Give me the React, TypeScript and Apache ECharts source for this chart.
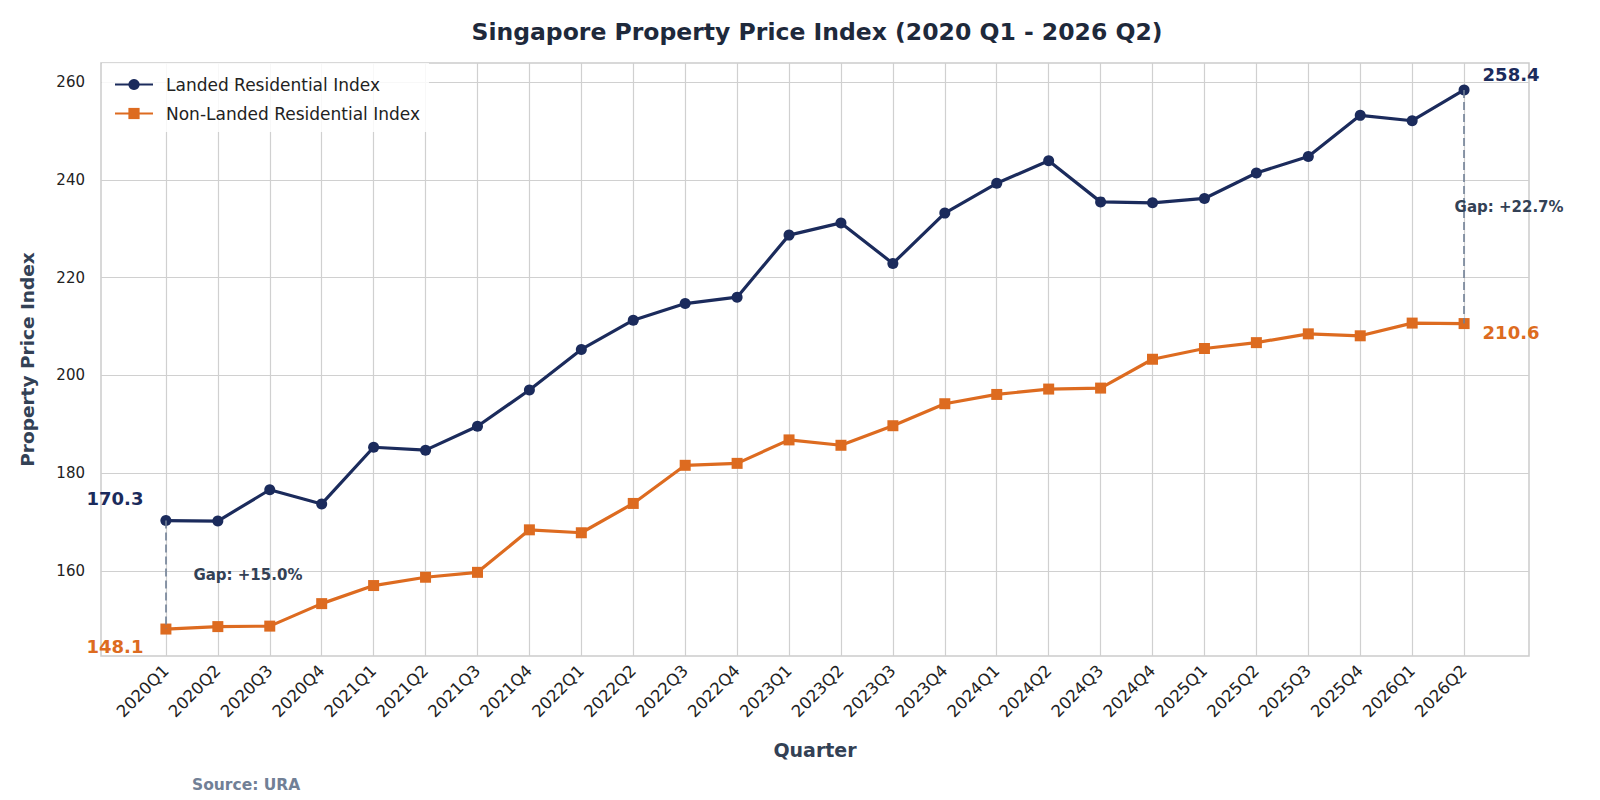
import React, { useEffect, useRef } from "react";
import * as echarts from "echarts";

const quarters = [
  "2020Q1", "2020Q2", "2020Q3", "2020Q4",
  "2021Q1", "2021Q2", "2021Q3", "2021Q4",
  "2022Q1", "2022Q2", "2022Q3", "2022Q4",
  "2023Q1", "2023Q2", "2023Q3", "2023Q4",
  "2024Q1", "2024Q2", "2024Q3", "2024Q4",
  "2025Q1", "2025Q2", "2025Q3", "2025Q4",
  "2026Q1", "2026Q2",
];

const landed = [
  170.3, 170.2, 176.6, 173.7,
  185.3, 184.7, 189.6, 197.0,
  205.3, 211.3, 214.7, 216.0,
  228.7, 231.2, 222.9, 233.2,
  239.3, 243.9, 235.5, 235.3,
  236.2, 241.4, 244.8, 253.2,
  252.1, 258.4,
];

const nonLanded = [
  148.1, 148.6, 148.7, 153.3,
  157.0, 158.7, 159.7, 168.4,
  167.8, 173.8, 181.6, 182.0,
  186.8, 185.7, 189.7, 194.2,
  196.1, 197.2, 197.4, 203.3,
  205.5, 206.7, 208.5, 208.1,
  210.7, 210.6,
];

const yTicks = [160, 180, 200, 220, 240, 260];

const NAVY = "#1b2b5c";
const ORANGE = "#dd6b20";
const SLATE = "#334155";
const GREY = "#718096";
const FONT = "DejaVu Sans";

export default function App() {
  const ref = useRef<HTMLDivElement>(null);

  useEffect(() => {
    document.body.style.margin = "0";
    const chart = echarts.init(ref.current!, null, { renderer: "svg" });

    const n = quarters.length;
    const xs = quarters.map((_, i) => i);
    const allVals = landed.concat(nonLanded);
    const dMin = Math.min(...allVals);
    const dMax = Math.max(...allVals);
    const yPad = (dMax - dMin) * 0.05;
    const xPad = (n - 1) * 0.05;
    const last = n - 1;

    const gapFirst = ((landed[0] / nonLanded[0] - 1) * 100).toFixed(1);
    const gapLast = ((landed[last] / nonLanded[last] - 1) * 100).toFixed(1);

    const bigLabel = (color: string, pos: string, dist: number, offset: number[]) => ({
      show: true,
      position: pos,
      distance: dist,
      offset,
      color,
      fontSize: 18,
      fontWeight: "bold",
      fontFamily: FONT,
      formatter: (p: any) => p.value[1].toFixed(1),
    });

    const landedData = landed.map((v, i) => {
      const item: any = { value: [i, v] };
      if (i === 0) item.label = bigLabel(NAVY, "left", 17, [0, -22]);
      if (i === last) item.label = bigLabel(NAVY, "right", 13, [0, -15]);
      return item;
    });
    const nonLandedData = nonLanded.map((v, i) => {
      const item: any = { value: [i, v] };
      if (i === 0) item.label = bigLabel(ORANGE, "left", 17, [0, 17]);
      if (i === last) item.label = bigLabel(ORANGE, "right", 13, [0, 9]);
      return item;
    });

    const option: any = {
      animation: false,
      backgroundColor: "#ffffff",
      textStyle: { fontFamily: FONT },
      title: {
        text: "Singapore Property Price Index (2020 Q1 - 2026 Q2)",
        left: 812,
        textAlign: "center",
        top: 15,
        textStyle: { fontSize: 23.5, fontWeight: "bold", color: "#1e293b", fontFamily: FONT },
      },
      legend: {
        orient: "vertical",
        left: 102,
        top: 63,
        padding: [13, 9, 10, 12],
        backgroundColor: "rgba(255,255,255,0.85)",
        itemWidth: 38,
        itemHeight: 14,
        itemGap: 12,
        textStyle: { fontSize: 17, color: "#222222", fontFamily: FONT, padding: [0, 0, 0, 8] },
        data: ["Landed Residential Index", "Non-Landed Residential Index"],
      },
      grid: {
        left: 101,
        right: 71,
        top: 63,
        bottom: 144,
        show: true,
        borderColor: "#cccccc",
        borderWidth: 1.5,
        backgroundColor: "transparent",
      },
      xAxis: {
        type: "value",
        min: -xPad,
        max: last + xPad,
        name: "Quarter",
        nameLocation: "middle",
        nameGap: 84,
        nameTextStyle: { fontSize: 19, fontWeight: "bold", color: SLATE, fontFamily: FONT },
        axisLine: { show: false },
        axisTick: { show: false, customValues: xs },
        axisLabel: {
          customValues: xs,
          rotate: 45,
          margin: 12,
          fontSize: 16.5,
          color: "#222222",
          fontFamily: FONT,
          formatter: (v: number) => quarters[Math.round(v)] ?? "",
        },
        splitLine: { show: true, lineStyle: { color: "#d0d0d0", width: 1.2 } },
      },
      yAxis: {
        type: "value",
        min: dMin - yPad,
        max: dMax + yPad,
        name: "Property Price Index",
        nameLocation: "middle",
        nameGap: 64,
        nameTextStyle: { fontSize: 18.5, fontWeight: "bold", color: SLATE, fontFamily: FONT },
        axisLine: { show: false },
        axisTick: { show: false, customValues: yTicks },
        axisLabel: {
          customValues: yTicks,
          margin: 16,
          fontSize: 15,
          color: "#222222",
          fontFamily: FONT,
        },
        splitLine: { show: true, lineStyle: { color: "#d0d0d0", width: 1.2 } },
      },
      series: [
        {
          name: "Landed Residential Index",
          type: "line",
          data: landedData,
          symbol: "circle",
          symbolSize: 11,
          color: NAVY,
          lineStyle: { width: 3.2, color: NAVY },
          itemStyle: { color: NAVY },
          z: 4,
          markLine: {
            silent: true,
            symbol: ["none", "none"],
            label: { show: false },
            lineStyle: { type: [8, 4], color: GREY, width: 1.6 },
            data: [
              [{ coord: [0, landed[0]] }, { coord: [0, nonLanded[0]] }],
              [{ coord: [last, landed[last]] }, { coord: [last, nonLanded[last]] }],
            ],
          },
          markPoint: {
            silent: true,
            symbol: "circle",
            symbolSize: 1,
            itemStyle: { color: "rgba(0,0,0,0)" },
            label: {
              show: true,
              color: SLATE,
              fontSize: 15,
              fontWeight: "bold",
              fontFamily: FONT,
            },
            data: [
              {
                coord: [0, (landed[0] + nonLanded[0]) / 2],
                label: { position: "right", distance: 27, formatter: `Gap: +${gapFirst}%` },
              },
              {
                coord: [last, (landed[last] + nonLanded[last]) / 2],
                label: { position: "right", distance: 0, offset: [-10, 0], formatter: `Gap: +${gapLast}%` },
              },
            ],
          },
        },
        {
          name: "Non-Landed Residential Index",
          type: "line",
          data: nonLandedData,
          symbol: "rect",
          symbolSize: 11,
          color: ORANGE,
          lineStyle: { width: 3.2, color: ORANGE },
          itemStyle: { color: ORANGE },
          z: 3,
        },
      ],
      graphic: [
        {
          type: "text",
          left: 192,
          top: 777,
          style: {
            text: "Source: URA",
            fill: GREY,
            fontSize: 15.5,
            fontWeight: "bold",
            fontFamily: FONT,
          },
        },
      ],
    };

    chart.setOption(option);
    return () => chart.dispose();
  }, []);

  return <div ref={ref} style={{ width: 1600, height: 800 }} />;
}
